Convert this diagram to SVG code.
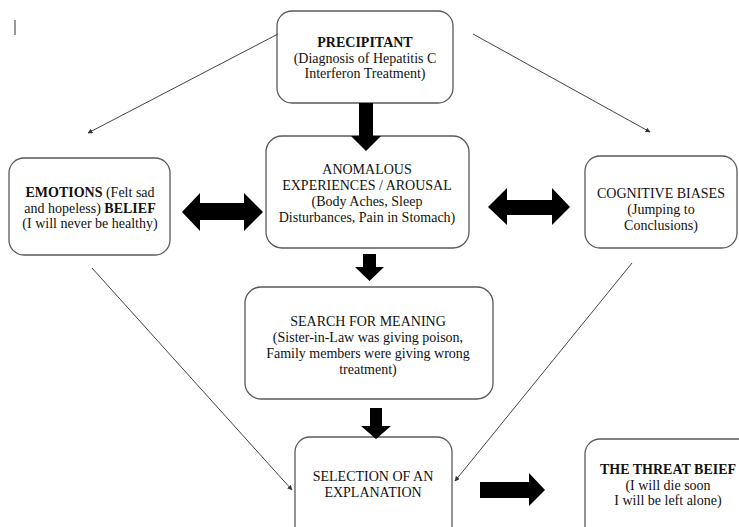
<svg xmlns="http://www.w3.org/2000/svg" width="739" height="527" viewBox="0 0 739 527">
<defs>
<style>
.box{fill:#fff;stroke:#5a5a5a;stroke-width:1.3}
.t{font-family:"Liberation Serif","Times New Roman",serif;font-size:14px;fill:#111;text-anchor:middle}
.b{font-weight:bold}
.thin{fill:none;stroke:#444;stroke-width:1;marker-end:url(#ah)}
.big{fill:#000}
</style>
<marker id="ah" viewBox="0 0 10 10" refX="9" refY="5" markerWidth="5" markerHeight="5" orient="auto" markerUnits="userSpaceOnUse">
<path d="M0,0 L10,5 L0,10 z" fill="#333"/>
</marker>
</defs>
<rect width="739" height="527" fill="#fff"/>
<line x1="15" y1="20" x2="15" y2="35" stroke="#333" stroke-width="1"/>

<g id="precipitant">
<rect class="box" x="277" y="11" width="176" height="92" rx="15"/>
<text class="t b" x="365" y="47">PRECIPITANT</text>
<text class="t" x="365" y="63">(Diagnosis of Hepatitis C</text>
<text class="t" x="365" y="78">Interferon Treatment)</text>
</g>

<g id="anomalous">
<rect class="box" x="266" y="136" width="203" height="112" rx="16"/>
<text class="t" x="367" y="174">ANOMALOUS</text>
<text class="t" x="367" y="190">EXPERIENCES / AROUSAL</text>
<text class="t" x="367" y="206">(Body Aches, Sleep</text>
<text class="t" x="367" y="222">Disturbances, Pain in Stomach)</text>
</g>

<g id="emotions">
<rect class="box" x="9" y="158" width="161" height="97" rx="15"/>
<text class="t" x="90" y="197"><tspan class="b">EMOTIONS</tspan> (Felt sad</text>
<text class="t" x="90" y="213">and hopeless) <tspan class="b">BELIEF</tspan></text>
<text class="t" x="90" y="228">(I will never be healthy)</text>
</g>

<g id="cognitive">
<rect class="box" x="585" y="156" width="152" height="92" rx="15"/>
<text class="t" x="661" y="198">COGNITIVE BIASES</text>
<text class="t" x="661" y="214">(Jumping to</text>
<text class="t" x="661" y="230">Conclusions)</text>
</g>

<g id="search">
<rect class="box" x="245" y="287" width="248" height="112" rx="16"/>
<text class="t" x="368" y="326">SEARCH FOR MEANING</text>
<text class="t" x="368" y="342">(Sister-in-Law was giving poison,</text>
<text class="t" x="368" y="358">Family members were giving wrong</text>
<text class="t" x="368" y="374">treatment)</text>
</g>

<g id="selection">
<rect class="box" x="295" y="437" width="157" height="120" rx="15"/>
<text class="t" x="373" y="481">SELECTION OF AN</text>
<text class="t" x="373" y="497">EXPLANATION</text>
</g>

<g id="threat">
<rect class="box" x="585" y="439" width="170" height="120" rx="15"/>
<text class="t b" x="668" y="474">THE THREAT BEIEF</text>
<text class="t" x="668" y="490">(I will die soon</text>
<text class="t" x="668" y="505">I will be left alone)</text>
</g>

<g id="connectors">
<line class="thin" x1="278" y1="34" x2="88" y2="133"/>
<line class="thin" x1="473" y1="34" x2="650" y2="132"/>
<line class="thin" x1="92" y1="268" x2="292" y2="490"/>
<line class="thin" x1="632" y1="263" x2="455" y2="481"/>
<polygon class="big" points="359,103 373,103 373,136 381,136 366,151 351,136 359,136"/>
<polygon class="big" points="363,254 376,254 376,267 384,267 369.5,281 355,267 363,267"/>
<polygon class="big" points="370,408 382,408 382,426 391,426 376,439 361,426 370,426"/>
<polygon class="big" points="182,212 200,193 200,203 244,203 244,193 263,212 244,231 244,220 200,220 200,231"/>
<polygon class="big" points="488,207 507,188 507,200 552,200 552,188 570,207 552,225 552,215 507,215 507,225"/>
<polygon class="big" points="480,482 529,482 529,473 545,490 529,506 529,498 480,498"/>
</g>
</svg>
